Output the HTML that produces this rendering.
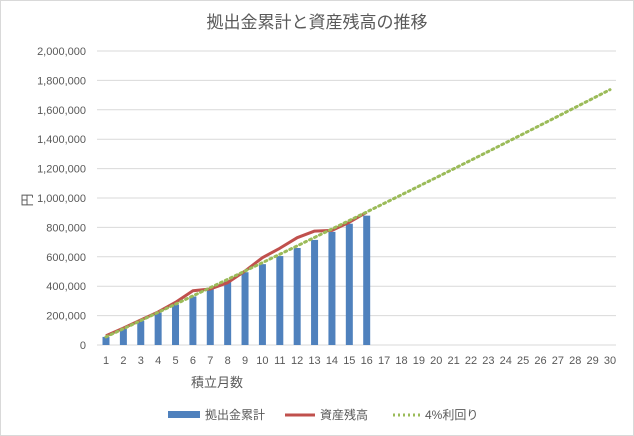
<!DOCTYPE html>
<html><head><meta charset="utf-8"><style>
body{margin:0;background:#fff}
svg{display:block;font-family:"Liberation Sans","Noto Sans CJK JP",sans-serif}
</style></head><body>
<svg id="c" width="634" height="436">
<rect x="0.5" y="0.5" width="633" height="435" fill="#fff" stroke="#d9d9d9"/>
<text x="317" y="28" text-anchor="middle" font-size="17" fill="#595959">拠出金累計と資産残高の推移</text>
<g id="grid"></g><g id="yt"></g><g id="xt"></g><g id="bars"></g><g id="lines"></g>
<text x="217" y="387" text-anchor="middle" font-size="13" fill="#595959">積立月数</text>
<text transform="translate(32,200) rotate(-90)" text-anchor="middle" font-size="13" fill="#595959">円</text>
<g font-size="12" fill="#595959">
<rect x="168" y="411" width="32" height="7" fill="#4f81bd"/>
<text x="205" y="419">拠出金累計</text>
<line x1="285" y1="415" x2="315" y2="415" stroke="#c0504d" stroke-width="3"/>
<text x="320" y="419">資産残高</text>
<line x1="393" y1="415" x2="421" y2="415" stroke="#9bbb59" stroke-width="3" stroke-dasharray="2 3"/>
<text x="425" y="419">4%利回り</text>
</g>
</svg>
<script>
const categories=[1,2,3,4,5,6,7,8,9,10,11,12,13,14,15,16,17,18,19,20,21,22,23,24,25,26,27,28,29,30];
const contrib=[55000,110000,165000,220000,275000,330000,385000,440000,495000,550000,605000,660000,715000,770000,825000,880000];
const assets=[63000,115000,170000,225000,290000,369000,381000,424000,503000,594000,658000,730000,775000,780000,835000,903000];
const yield4=[55200,110600,166100,221800,277800,333900,390100,446600,503300,560100,617100,674300,731700,789300,847000,905000,963200,1021600,1080200,1139000,1198000,1257100,1316500,1376000,1435800,1495700,1555800,1616100,1676500,1737000];
const yTicks=[0,200000,400000,600000,800000,1000000,1200000,1400000,1600000,1800000,2000000];
const NS="http://www.w3.org/2000/svg";
const x=i=>106+i*17.38;
const y=v=>345-v*(294/2000000);
function mk(t,a,p){const e=document.createElementNS(NS,t);for(const k in a)e.setAttribute(k,a[k]);p.appendChild(e);return e;}
const G=document.getElementById('grid'),YT=document.getElementById('yt'),XT=document.getElementById('xt'),B=document.getElementById('bars'),L=document.getElementById('lines');
yTicks.forEach(v=>{
 const l=mk('line',{x1:97,x2:616,y1:y(v),y2:y(v),stroke:'#d9d9d9','stroke-width':1},G);
 
 
 const t=mk('text',{x:86,y:y(v)+4,'text-anchor':'end','font-size':11,fill:'#595959'},YT);
 t.textContent=v.toLocaleString('en-US');
 
 
});
categories.forEach((c,i)=>{
 const t=mk('text',{x:x(i),y:364,'text-anchor':'middle','font-size':11,fill:'#595959'},XT);
 t.textContent=c;
 
 
});
contrib.forEach((v,i)=>{
 const r=mk('rect',{x:x(i)-3.5,y:y(v),width:7,height:345-y(v),fill:'#4f81bd'},B);
 
 
});
const pa=mk('polyline',{points:assets.map((v,i)=>x(i)+','+y(v)).join(' '),fill:'none',stroke:'#c0504d','stroke-width':3,'stroke-linejoin':'round'},L);


const py=mk('polyline',{points:yield4.map((v,i)=>x(i)+','+y(v)).join(' '),fill:'none',stroke:'#9bbb59','stroke-width':3,'stroke-dasharray':'2 3.5','stroke-linecap':'round'},L);


</script>
</body></html>
